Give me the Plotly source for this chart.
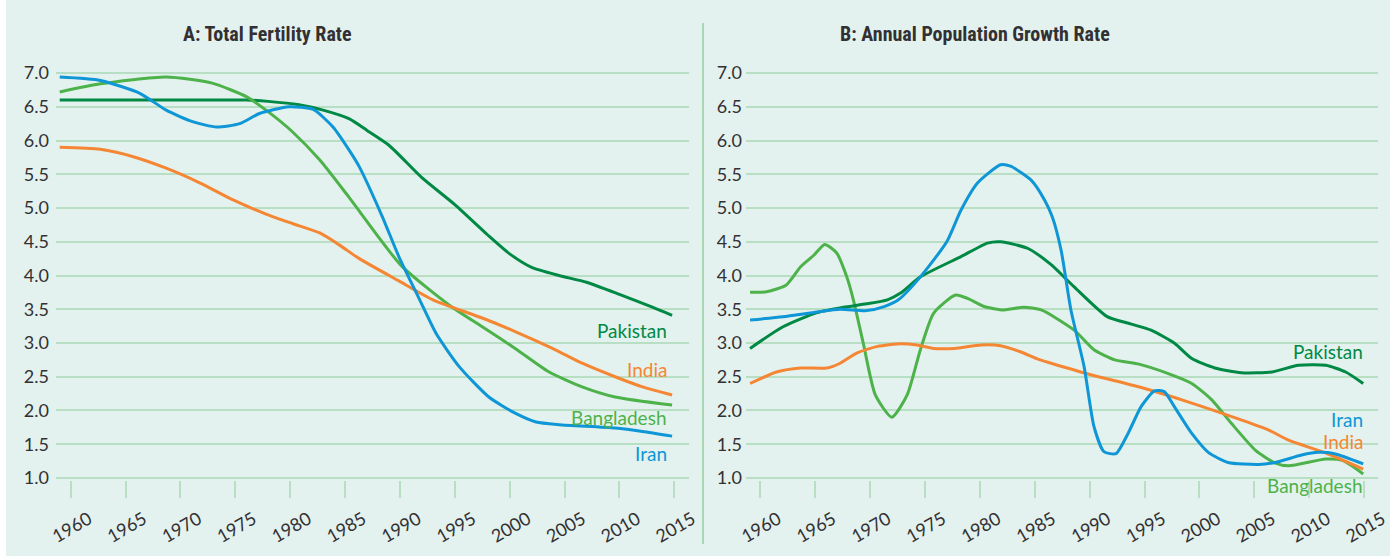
import plotly.graph_objects as go

# ---------------- data ----------------
# Panel A: Total Fertility Rate
pak_a_years = [1959, 1965, 1970, 1976, 1978, 1980.8, 1983, 1985.4, 1987, 1989, 1992, 1995, 1998, 2000, 2002, 2004.5, 2007, 2010, 2013, 2014.8]
pak_a_vals = [6.6, 6.6, 6.6, 6.6, 6.58, 6.53, 6.45, 6.32, 6.15, 5.93, 5.45, 5.05, 4.6, 4.32, 4.12, 4.0, 3.9, 3.72, 3.53, 3.41]

iran_a_years = [1959, 1962.7, 1966.3, 1968.7, 1971.1, 1973.3, 1975.4, 1977.2, 1979.9, 1982.1, 1983.9, 1985.4, 1986.3, 1988.4, 1989.9, 1991.8, 1993.3, 1995.4, 1998.1, 2000.5, 2002.4, 2004.5, 2009.6, 2012.1, 2014.8]
iran_a_vals = [6.94, 6.89, 6.70, 6.45, 6.28, 6.20, 6.25, 6.40, 6.50, 6.46, 6.20, 5.85, 5.61, 4.87, 4.28, 3.64, 3.14, 2.65, 2.20, 1.96, 1.83, 1.79, 1.74, 1.69, 1.62]

bang_a_years = [1959, 1962.7, 1968.7, 1972.9, 1976, 1977.8, 1980.2, 1982.7, 1985.4, 1990.1, 1994.5, 1997.5, 2000.5, 2003.6, 2006.6, 2009.6, 2014.8]
bang_a_vals = [6.72, 6.84, 6.94, 6.85, 6.65, 6.45, 6.13, 5.71, 5.15, 4.15, 3.56, 3.24, 2.92, 2.57, 2.35, 2.20, 2.08]

india_a_years = [1959, 1962.7, 1965.7, 1968.7, 1971.8, 1974.8, 1977.8, 1980.2, 1982.7, 1984.5, 1986.3, 1989.9, 1993, 1997.5, 2000.5, 2003.9, 2006.6, 2009.6, 2012.1, 2014.8]
india_a_vals = [5.90, 5.87, 5.76, 5.59, 5.37, 5.12, 4.91, 4.77, 4.63, 4.45, 4.25, 3.92, 3.64, 3.37, 3.17, 2.92, 2.70, 2.50, 2.35, 2.23]

# Panel B: Annual Population Growth Rate
bang_b_years = [1959.1, 1960.6, 1962.4, 1963.7, 1964.9, 1965.9, 1967, 1967.9, 1968.5, 1969.4, 1970.5, 1972, 1973.4, 1974.6, 1975.8, 1977.8, 1978.9, 1980.4, 1982.2, 1984, 1985.6, 1988.6, 1990.4, 1992.3, 1994.4, 1997.1, 1999.3, 2001.1, 2002.9, 2005.1, 2006.9, 2008.1, 2011.5, 2013, 2014.9]
bang_b_vals = [3.75, 3.76, 3.86, 4.13, 4.30, 4.46, 4.33, 3.98, 3.64, 3.0, 2.23, 1.90, 2.23, 2.90, 3.44, 3.71, 3.66, 3.54, 3.49, 3.53, 3.49, 3.19, 2.90, 2.75, 2.69, 2.55, 2.40, 2.16, 1.81, 1.41, 1.22, 1.18, 1.28, 1.26, 1.06]

pak_b_years = [1959.1, 1962.1, 1965.2, 1967.6, 1969.7, 1971.6, 1972.8, 1974.6, 1978.3, 1980.7, 1981.9, 1984.4, 1986.5, 1988.6, 1991.6, 1993.8, 1995.6, 1997.7, 1999.3, 2001.4, 2003.8, 2006.6, 2009, 2011.5, 2013.3, 2014.9]
pak_b_vals = [2.92, 3.24, 3.45, 3.53, 3.58, 3.64, 3.74, 3.98, 4.28, 4.48, 4.50, 4.40, 4.16, 3.83, 3.39, 3.28, 3.19, 3.0, 2.77, 2.63, 2.56, 2.57, 2.67, 2.67, 2.57, 2.40]

iran_b_years = [1959.1, 1962.1, 1965.2, 1967.3, 1969.7, 1971.3, 1972.6, 1974.6, 1977, 1978.3, 1979.8, 1981.9, 1982.8, 1984.7, 1985.9, 1986.6, 1987.4, 1988.3, 1989.5, 1990.4, 1991.3, 1992.4, 1993.5, 1994.7, 1995.9, 1996.8, 1997.7, 1999.3, 2000.8, 2002.6, 2005.4, 2006.9, 2009.3, 2010.8, 2012.3, 2014.9]
iran_b_vals = [3.34, 3.39, 3.46, 3.50, 3.48, 3.54, 3.64, 3.98, 4.50, 4.97, 5.37, 5.64, 5.62, 5.41, 5.12, 4.87, 4.38, 3.49, 2.65, 1.76, 1.39, 1.36, 1.66, 2.06, 2.29, 2.28, 2.06, 1.66, 1.38, 1.23, 1.20, 1.23, 1.34, 1.38, 1.36, 1.21]

india_b_years = [1959.1, 1961.5, 1963.7, 1966.1, 1967.3, 1968.8, 1970.7, 1972.8, 1974.3, 1975.8, 1977.7, 1980.1, 1981.9, 1983.7, 1985.3, 1986.5, 1990.1, 1994.7, 1999.3, 2003.8, 2006.3, 2008.1, 2011.5, 2014.9]
india_b_vals = [2.40, 2.57, 2.63, 2.63, 2.70, 2.85, 2.95, 2.99, 2.97, 2.92, 2.92, 2.97, 2.96, 2.87, 2.76, 2.70, 2.53, 2.34, 2.11, 1.86, 1.71, 1.56, 1.37, 1.13]

panel_titles = ["A: Total Fertility Rate", "B: Annual Population Growth Rate"]
x_ticks = [1960, 1965, 1970, 1975, 1980, 1985, 1990, 1995, 2000, 2005, 2010, 2015]
y_ticks = [1.0, 1.5, 2.0, 2.5, 3.0, 3.5, 4.0, 4.5, 5.0, 5.5, 6.0, 6.5, 7.0]

# series-name labels: (name, year, value, pixel shift below the value)
labels_a = [("Pakistan", 2014.5, 3.19, 0), ("India", 2014.5, 2.61, 0), ("Bangladesh", 2014.5, 1.90, 0), ("Iran", 2014.5, 1.36, 0)]
labels_b = [("Pakistan", 2015.05, 2.87, 0), ("Iran", 2015.05, 1.87, 0), ("India", 2015.05, 1.54, 0), ("Bangladesh", 2015.05, 1.0, 8)]

# ---------------- style ----------------
W, H = 1390, 557
BG = "rgb(227,242,238)"
GRID = "rgb(184,223,196)"
TXT = "rgb(51,48,51)"
COL = {"Pakistan": "rgb(0,137,68)", "Bangladesh": "rgb(77,178,74)",
       "India": "rgb(245,134,52)", "Iran": "rgb(14,150,214)"}
FONT = "Lato"

fig = go.Figure()

def add(x, y, name, xa, ya):
    fig.add_trace(go.Scatter(x=x, y=y, mode="lines", name=name, xaxis=xa, yaxis=ya,
                             line=dict(color=COL[name], width=3, shape="spline", smoothing=0.6),
                             showlegend=False, hoverinfo="skip"))

add(pak_a_years, pak_a_vals, "Pakistan", "x", "y")
add(bang_a_years, bang_a_vals, "Bangladesh", "x", "y")
add(india_a_years, india_a_vals, "India", "x", "y")
add(iran_a_years, iran_a_vals, "Iran", "x", "y")

add(bang_b_years, bang_b_vals, "Bangladesh", "x2", "y2")
add(india_b_years, india_b_vals, "India", "x2", "y2")
add(pak_b_years, pak_b_vals, "Pakistan", "x2", "y2")
add(iran_b_years, iran_b_vals, "Iran", "x2", "y2")

ytop = 1 - 71 / H
ybot = 1 - 480 / H

xcommon = dict(tickmode="array", tickvals=x_ticks, ticks="outside", ticklen=17, tickwidth=2,
               tickcolor=GRID, showgrid=False, zeroline=False, showline=False, automargin=False,
               tickangle=-30, tickfont=dict(family=FONT, size=18, color=TXT),
               ticklabelshift=18, ticklabelstandoff=4)
ycommon = dict(range=[0.97, 7.03], tickmode="array", tickvals=y_ticks, tickformat=".1f",
               showgrid=True, gridcolor=GRID, gridwidth=2, zeroline=False, showline=False,
               automargin=False, ticks="", tickfont=dict(family=FONT, size=18, color=TXT),
               domain=[ybot, ytop])

fig.update_layout(
    width=W, height=H, margin=dict(l=0, r=0, t=0, b=0, autoexpand=False),
    paper_bgcolor="white", plot_bgcolor="rgba(0,0,0,0)",
    xaxis=dict(domain=[56 / W, 689 / W], range=[1958.66, 2016.34], anchor="y", **xcommon),
    yaxis=dict(anchor="x", ticklabelstandoff=6, **ycommon),
    xaxis2=dict(domain=[746 / W, 1377.7 / W], range=[1958.73, 2016.22], anchor="y2", **xcommon),
    yaxis2=dict(anchor="x2", ticklabelstandoff=3, **ycommon),
)

# mint background panel with thin white border on the left/bottom
fig.add_shape(type="rect", xref="paper", yref="paper", x0=6 / W, x1=1, y0=1 / H, y1=1,
              fillcolor=BG, line=dict(width=0), layer="below")
# separator line between panels
fig.add_shape(type="line", xref="paper", yref="paper", x0=703 / W, x1=703 / W,
              y0=1 - 544 / H, y1=1 - 23 / H, line=dict(color="rgb(168,216,181)", width=2))

# panel titles
for t, cx in zip(panel_titles, [267, 975]):
    fig.add_annotation(text="<b>" + t + "</b>", xref="paper", yref="paper", x=cx / W, y=1 - 34 / H,
                       xanchor="center", yanchor="middle", showarrow=False,
                       font=dict(family="Roboto Condensed, Lato", size=20, color=TXT))

for labels, xr, yr in [(labels_a, "x", "y"), (labels_b, "x2", "y2")]:
    for name, xv, yv, shift in labels:
        fig.add_annotation(text=name, xref=xr, yref=yr, x=xv, y=yv, yshift=-shift,
                           xanchor="right", yanchor="middle", showarrow=False,
                           font=dict(family=FONT, size=19, color=COL[name]))

fig.write_html("out.html", config={"displayModeBar": False},
               post_script="document.body.style.margin='0';document.body.style.overflow='hidden';")
